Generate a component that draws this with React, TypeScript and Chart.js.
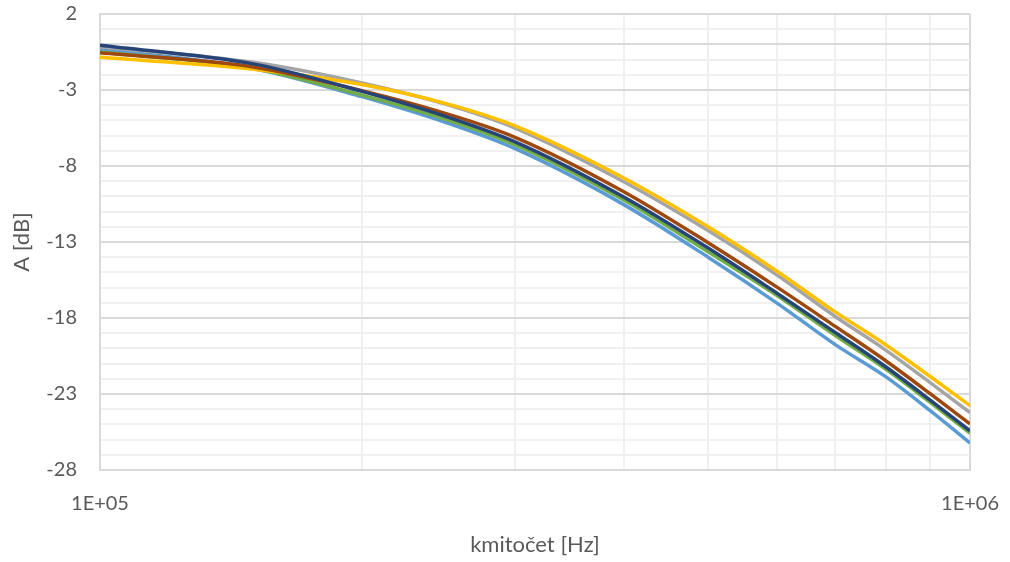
import React, { useEffect, useRef } from "react";
import { Chart, registerables } from "chart.js";

Chart.register(...registerables);

const freqs = [1e5, 1.5e5, 2e5, 2.5e5, 3e5, 4e5, 5e5, 6e5, 7e5, 8e5, 9e5, 1e6];

const navy = [-0.05, -1.28, -3.09, -4.75, -6.41, -10.04, -13.4, -16.37, -18.95, -21.21, -23.4, -25.42];
const brown = [-0.55, -1.48, -3.04, -4.55, -6.11, -9.69, -13.05, -15.97, -18.55, -20.81, -22.98, -24.97];
const yellow = [-0.85, -1.63, -2.64, -3.9, -5.36, -8.79, -12.0, -14.92, -17.6, -19.76, -21.85, -23.77];
const gray = [-0.15, -1.18, -2.54, -3.95, -5.51, -9.04, -12.25, -15.17, -17.9, -20.11, -22.25, -24.22];
const green = [-0.5, -1.58, -3.34, -4.95, -6.61, -10.24, -13.65, -16.52, -19.15, -21.36, -23.55, -25.57];
const blue = [-0.3, -1.58, -3.44, -5.15, -6.86, -10.54, -14.0, -17.02, -19.75, -21.86, -24.1, -26.22];

const xGridTicks = [1e5, 2e5, 3e5, 4e5, 5e5, 6e5, 7e5, 8e5, 9e5, 1e6];
const yMajorTicks = [2, -3, -8, -13, -18, -23, -28];

const xTitle = "kmitočet [Hz]";
const yTitle = "A [dB]";

const FONT = "Lato, 'Open Sans', sans-serif";
const TEXT = "#595959";

function pts(vals: number[]) {
  return freqs.map((f, i) => ({ x: f, y: vals[i] }));
}

export default function App() {
  const ref = useRef<HTMLCanvasElement | null>(null);
  useEffect(() => {
    if (!ref.current) return;
    const mk = (data: number[], color: string) => ({
      data: pts(data),
      borderColor: color,
      backgroundColor: color,
      borderWidth: 3.5,
      pointRadius: 0,
      cubicInterpolationMode: "monotone",
      fill: false,
    });
    const chart = new Chart(ref.current, {
      type: "line",
      data: {
        datasets: [
          mk(navy, "#264478"),
          mk(brown, "#9E480E"),
          mk(yellow, "#FFC000"),
          mk(gray, "#A5A5A5"),
          mk(green, "#70AD47"),
          mk(blue, "#5B9BD5"),
        ],
      },
      options: {
        responsive: false,
        animation: false,
        layout: { padding: { left: 0, right: 40, top: 14, bottom: 0 } },
        plugins: { legend: { display: false }, tooltip: { enabled: false } },
        scales: {
          x: {
            type: "logarithmic",
            min: 1e5,
            max: 1e6,
            afterBuildTicks: (scale: any) => {
              scale.ticks = xGridTicks.map((v) => ({ value: v }));
            },
            afterFit: (scale: any) => {
              scale.height = 92;
              scale.paddingLeft = 0;
              scale.paddingRight = 0;
              scale.paddingTop = 0;
              scale.paddingBottom = 0;
            },
            ticks: {
              autoSkip: false,
              maxRotation: 0,
              padding: 22,
              color: TEXT,
              font: { family: FONT, size: 20 },
              callback: (v: any) => (v === 1e5 ? "1E+05" : v === 1e6 ? "1E+06" : ""),
            },
            grid: {
              drawTicks: false,
              lineWidth: 2,
              color: (ctx: any) =>
                ctx.tick && (ctx.tick.value === 1e5 || ctx.tick.value === 1e6) ? "#d9d9d9" : "#f0f0f0",
            },
            border: { display: true, color: "#d9d9d9", width: 2 },
            title: {
              display: true,
              text: xTitle,
              color: TEXT,
              font: { family: FONT, size: 22 },
              padding: { top: 0, bottom: 4 },
            },
          },
          y: {
            type: "linear",
            min: -28,
            max: 2,
            afterFit: (scale: any) => {
              scale.width = 100;
              scale.paddingLeft = 0;
              scale.paddingRight = 0;
              scale.paddingTop = 0;
              scale.paddingBottom = 0;
            },
            ticks: {
              stepSize: 1,
              autoSkip: false,
              padding: 23,
              color: TEXT,
              font: { family: FONT, size: 20 },
              callback: (v: any) => {
                const n = Math.round(Number(v));
                return yMajorTicks.includes(n) ? String(n) : "";
              },
            },
            grid: {
              drawTicks: false,
              lineWidth: 2,
              color: (ctx: any) => {
                if (!ctx.tick) return "#f0f0f0";
                const n = Math.round(ctx.tick.value);
                return yMajorTicks.includes(n) || n === 0 ? "#d9d9d9" : "#f0f0f0";
              },
            },
            border: { display: true, color: "#d9d9d9", width: 2 },
            title: {
              display: true,
              text: yTitle,
              color: TEXT,
              font: { family: FONT, size: 22 },
              padding: { top: 9, bottom: 0 },
            },
          },
        },
      },
    } as any);
    return () => chart.destroy();
  }, []);
  return (
    <div style={{ position: "fixed", left: 0, top: 0, width: 1010, height: 562, background: "#fff" }}>
      <canvas ref={ref} width={1010} height={562} />
    </div>
  );
}
